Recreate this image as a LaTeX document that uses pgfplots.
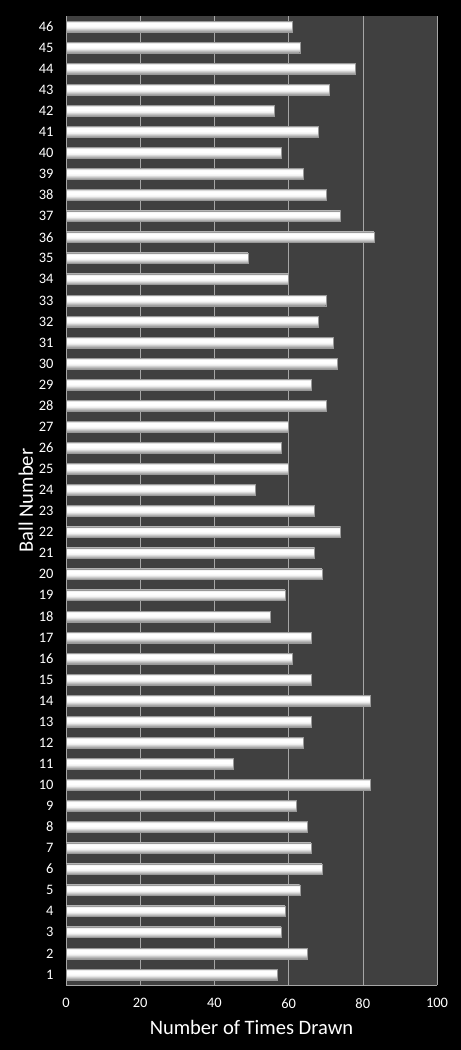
\documentclass[border=0pt]{standalone}
\usepackage{pgfplots}
\usepackage{pgfplotstable}
\pgfplotsset{compat=1.18}
\usepackage{fontspec}
\setmainfont{Carlito}

\definecolor{plotbg}{HTML}{404040}
\definecolor{gridc}{HTML}{A6A6A6}
\definecolor{bartop}{HTML}{CFCFCF}
\definecolor{barbot}{HTML}{8E8E8E}
% cylinder-like look of the bars: dark bottom, white band, light top
\pgfdeclareverticalshading{cyl}{100bp}{color(0bp)=(barbot); color(25bp)=(barbot); color(45bp)=(white!90!gray); color(54bp)=(white); color(68bp)=(white); color(75bp)=(bartop); color(100bp)=(bartop)}

\pgfplotstableread{
ball count
1 57
2 65
3 58
4 59
5 63
6 69
7 66
8 65
9 62
10 82
11 45
12 64
13 66
14 82
15 66
16 61
17 66
18 55
19 59
20 69
21 67
22 74
23 67
24 51
25 60
26 58
27 60
28 70
29 66
30 73
31 72
32 68
33 70
34 60
35 49
36 83
37 74
38 70
39 64
40 58
41 68
42 56
43 71
44 78
45 63
46 61
}\draws

\begin{document}
\begin{tikzpicture}
\fill[black] (0,0) rectangle (461bp,1050bp);
\begin{axis}[
  at={(66bp,65bp)}, anchor=south west,
  scale only axis, width=371bp, height=969bp,
  xbar, bar width=10.7bp, bar shift=0pt,
  xmin=0, xmax=100, ymin=0.5, ymax=46.5,
  xtick={0,20,...,100}, ytick={1,...,46},
  major tick length=0pt,
  axis background/.style={fill=plotbg},
  xmajorgrids, grid style={gridc, line width=0.5bp},
  axis x line*=bottom, axis y line*=left,
  axis line style={-, gridc, line width=0.6bp},
  /pgf/number format/assume math mode=true,
  ticklabel style={white, font=\fontsize{14.5}{17}\selectfont},
  xticklabel style={yshift=-10bp},
  yticklabel style={xshift=-9bp},
  xlabel={Number of Times Drawn}, ylabel={Ball Number},
  label style={white, font=\fontsize{20.6}{24}\selectfont},
  xlabel style={at={(axis description cs:0.5,-0.0433)}, anchor=center},
  ylabel style={at={(axis description cs:-0.108,0.5)}, anchor=center},
]
% one plot per ball, so that every bar gets its own shading
\pgfplotsinvokeforeach{1,...,46}{
  \addplot[shading=cyl, draw=gray!80, line width=0.4bp,
    restrict y to domain=#1:#1]
    table[x=count, y=ball] {\draws};
}
\end{axis}
\end{tikzpicture}
\end{document}
